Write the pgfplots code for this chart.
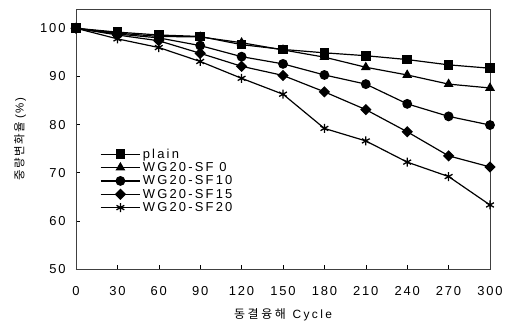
\documentclass[border=0pt]{standalone}
\usepackage{pgfplots}
\pgfplotsset{compat=1.18}
\usepackage{fontspec}
\setmainfont{Liberation Sans}
\newfontfamily\kr{Noto Sans CJK KR}
\newcommand\lsp[1]{\addfontfeature{LetterSpace=#1}}
\begin{document}
\begin{tikzpicture}
\path[use as bounding box] (-76bp,-57bp) rectangle (434bp,269bp);
\begin{axis}[
  at={(0,0)}, anchor=origin,
  scale only axis, width=414bp, height=260bp,
  xmin=0, xmax=300, ymin=50, ymax=104,
  xtick={0,30,...,300}, ytick={50,60,...,100},
  tick align=inside, xtick pos=bottom, ytick pos=left,
  major tick length=4bp,
  axis line style={line width=0.8pt, black!75},
  tick style={line width=0.6pt, black},
  /pgf/number format/assume math mode=true,
  tick label style={font=\fontsize{13}{15}\selectfont\lsp{14}},
  xticklabel style={yshift=-14bp},
  yticklabel style={xshift=-7bp},
  every axis x label/.style={at={(rel axis cs:0.5,0)}, anchor=center, yshift=-46bp},
  every axis y label/.style={at={(rel axis cs:0,0.5)}, anchor=center, rotate=90, yshift=56bp},
  xlabel={{\kr\lsp{22}동결융해}\ \ {\lsp{20}Cycle}},
  ylabel={{\kr\lsp{12}중량변화율}\ {\lsp{15}(\%)}},
  xlabel style={font=\fontsize{12}{14}\selectfont},
  ylabel style={font=\fontsize{11.5}{14}\selectfont},
  legend style={draw=none, fill=none, at={(0.055,0.475)}, anchor=north west,
    font=\fontsize{13}{15}\selectfont\lsp{17}, row sep=-1.2bp, inner sep=1pt},
  legend cell align=left,
  legend image code/.code={\draw[#1, mark repeat=2, mark phase=2] plot coordinates {(0cm,0cm) (0.7cm,0cm) (1.4cm,0cm)};},
  every axis plot/.append style={line width=1.2pt, black, mark options={solid, fill=black}},
]
\addplot[mark=square*, mark size=4.2bp] coordinates {(0,100) (30,99.2) (60,98.6) (90,98.3) (120,96.6) (150,95.6) (180,94.9) (210,94.3) (240,93.5) (270,92.4) (300,91.7)};
\addlegendentry{plain}
\addplot[mark=triangle*, mark size=4.5bp] coordinates {(0,100) (30,99.0) (60,98.3) (90,98.2) (120,97.0) (150,95.5) (180,94.0) (210,91.9) (240,90.3) (270,88.4) (300,87.6)};
\addlegendentry{WG20-SF 0}
\addplot[mark=*, mark size=4.3bp] coordinates {(0,100) (30,98.8) (60,98.0) (90,96.4) (120,94.1) (150,92.6) (180,90.3) (210,88.4) (240,84.3) (270,81.7) (300,79.9)};
\addlegendentry{WG20-SF10}
\addplot[mark=square*, mark size=3.4bp, mark options={rotate=45}] coordinates {(0,100) (30,98.6) (60,97.4) (90,94.8) (120,92.1) (150,90.2) (180,86.8) (210,83.1) (240,78.5) (270,73.5) (300,71.2)};
\addlegendentry{WG20-SF15}
\addplot[mark=asterisk, mark size=4.5bp, mark options={line width=1.3pt}] coordinates {(0,100) (30,97.8) (60,96.0) (90,93.1) (120,89.6) (150,86.3) (180,79.2) (210,76.6) (240,72.2) (270,69.2) (300,63.3)};
\addlegendentry{WG20-SF20}
\end{axis}
\end{tikzpicture}
\end{document}
